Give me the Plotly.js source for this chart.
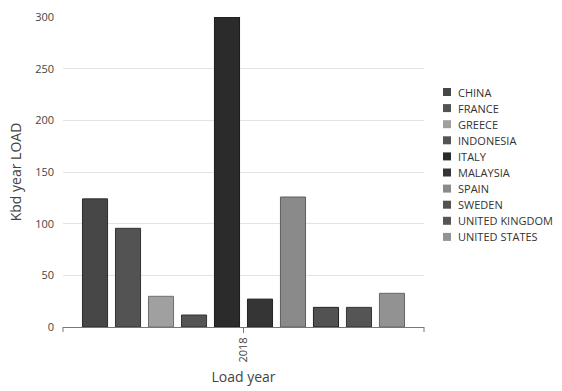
<!DOCTYPE html>
<html>
<head>
<meta charset="utf-8">
<script src="https://cdn.plot.ly/plotly-3.0.1.min.js"></script>
<style>html,body{margin:0;padding:0;background:#fff;}#chart{width:562px;height:391px;}</style>
</head>
<body>
<div id="chart"></div>
<script>
const countries = ["CHINA","FRANCE","GREECE","INDONESIA","ITALY","MALAYSIA","SPAIN","SWEDEN","UNITED KINGDOM","UNITED STATES"];
const years = ["2018"];
const loads = [124, 95.5, 29.7, 11.6, 300, 27, 125.8, 19, 19, 32.6];
const fills = ["#474747","#535353","#a0a0a0","#545454","#2b2b2b","#353535","#8a8a8a","#525252","#555555","#929292"];
const borders = ["#2e2e2e","#333333","#6e6e6e","#333333","#1a1a1a","#222222","#5e5e5e","#222222","#333333","#666666"];

const traces = countries.map((c, i) => ({
  type: "bar",
  name: c,
  x: years,
  y: [loads[i]],
  marker: {color: fills[i], line: {color: borders[i], width: 1}},
  hoverinfo: "none",
  showlegend: false
}));

// plot area geometry (pixels) used to place the custom legend
const W = 562, H = 391, L = 63, R = 138, T = 17, B = 64;
const pw = W - L - R, ph = H - T - B;
const px = v => (v - L) / pw;
const py = v => (H - B - v) / ph;

const annotations = [];
const shapes = [
  {type: "line", xref: "paper", yref: "paper", x0: 0, x1: 0, y0: 0, y1: -0.016, line: {color: "#777", width: 1}},
  {type: "line", xref: "paper", yref: "paper", x0: 1, x1: 1, y0: 0, y1: -0.016, line: {color: "#777", width: 1}}
];
countries.forEach((c, i) => {
  const cy = 92 + i * 16.1;
  shapes.push({type: "rect", xref: "paper", yref: "paper",
    x0: px(443), x1: px(451), y0: py(cy - 4), y1: py(cy + 4),
    fillcolor: fills[i], line: {width: 0}});
  annotations.push({xref: "paper", yref: "paper", x: px(456), y: py(cy),
    xanchor: "left", yanchor: "middle", showarrow: false, text: c,
    font: {size: 11, color: "#333"}});
});

const font = "'Segoe UI', 'Open Sans', 'Noto Sans', sans-serif";
const layout = {
  width: W, height: H,
  margin: {l: L, r: R, t: T, b: B, autoexpand: false},
  paper_bgcolor: "#fff", plot_bgcolor: "#fff",
  barmode: "group",
  bargap: 0.086,
  bargroupgap: 0.24,
  font: {family: font, color: "#444", size: 11},
  showlegend: false,
  xaxis: {
    type: "category",
    tickangle: -90,
    ticks: "outside", ticklen: 5, tickcolor: "#777",
    showline: true, linecolor: "#777", linewidth: 1,
    showgrid: false,
    tickfont: {size: 11, color: "#444"},
    title: {text: "Load year", font: {size: 14, color: "#444"}, standoff: 10}
  },
  yaxis: {
    range: [0, 300],
    tickvals: [0, 50, 100, 150, 200, 250, 300],
    showgrid: true, gridcolor: "#e3e3e3",
    zeroline: false, showline: false,
    ticks: "", ticklen: 0,
    ticklabelstandoff: 8,
    tickfont: {size: 11, color: "#444"},
    title: {text: "Kbd year LOAD", font: {size: 14, color: "#444"}, standoff: 10}
  },
  shapes: shapes,
  annotations: annotations
};

Plotly.newPlot("chart", traces, layout, {displayModeBar: false, staticPlot: true});
</script>
</body>
</html>
